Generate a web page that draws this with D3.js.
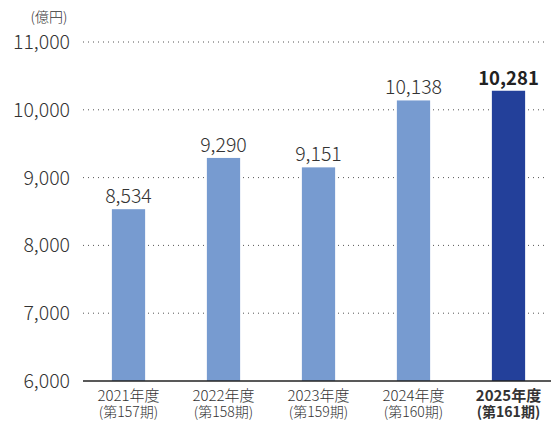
<!DOCTYPE html>
<html><head><meta charset="utf-8">
<script src="https://cdn.jsdelivr.net/npm/d3@7"></script>
<style>
body{margin:0;background:#fff;}
text{font-family:"Noto Sans CJK JP","Noto Sans",sans-serif;}
</style></head>
<body><svg id="c" width="551" height="421"></svg>
<script>
const years = ["2021年度","2022年度","2023年度","2024年度","2025年度"];
const periods = ["(第157期)","(第158期)","(第159期)","(第160期)","(第161期)"];
const values = [8534, 9290, 9151, 10138, 10281];
const yTicks = [6000, 7000, 8000, 9000, 10000, 11000];
const unit = "(億円)";

const svg = d3.select("#c");
const x = d3.scaleBand().domain(years).range([81, 556]).paddingInner(0.65).paddingOuter(0.325);
const y = d3.scaleLinear().domain([6000, 11000]).range([381, 42]);
const fmt = d3.format(",");

// grid
svg.append("g").selectAll("line").data(yTicks.slice(1)).join("line")
  .attr("x1", 83).attr("x2", 546).attr("y1", d => y(d)).attr("y2", d => y(d))
  .attr("stroke", "#555").attr("stroke-width", 1).attr("stroke-dasharray", "1,4");

// y labels
svg.append("g").selectAll("text").data(yTicks).join("text")
  .attr("x", 70).attr("y", d => y(d) + 7).attr("text-anchor", "end")
  .attr("font-size", 19.5).attr("font-weight", 300).attr("fill", "#333").text(d => fmt(d));

svg.append("text").attr("x", 49).attr("y", 22).attr("text-anchor", "middle")
  .attr("font-size", 14).attr("font-weight", 300).attr("fill", "#333").text(unit);

// bars
svg.append("g").selectAll("rect").data(values).join("rect")
  .attr("x", (d, i) => x(years[i])).attr("width", x.bandwidth())
  .attr("y", d => y(d)).attr("height", d => y(6000) - y(d))
  .attr("fill", (d, i) => i === 4 ? "#23409a" : "#779bd0");

// value labels
svg.append("g").selectAll("text").data(values).join("text")
  .attr("x", (d, i) => x(years[i]) + x.bandwidth() / 2).attr("y", d => y(d) - 6)
  .attr("text-anchor", "middle").attr("font-size", (d, i) => i === 4 ? 18.5 : 19.5)
  .attr("font-weight", (d, i) => i === 4 ? 600 : 300)
  .attr("fill", (d, i) => i === 4 ? "#222" : "#333").text(d => fmt(d));

// baseline
svg.append("line").attr("x1", 83).attr("x2", 551).attr("y1", y(6000)).attr("y2", y(6000))
  .attr("stroke", "#222").attr("stroke-width", 1.5);

// category labels
const cat = svg.append("g").selectAll("g").data(years).join("g");
cat.append("text").attr("x", d => x(d) + x.bandwidth() / 2).attr("y", 401)
  .attr("text-anchor", "middle").attr("font-size", 15)
  .attr("font-weight", (d, i) => i === 4 ? 700 : 300).attr("fill", "#333").text(d => d);
cat.append("text").attr("x", d => x(d) + x.bandwidth() / 2).attr("y", 417)
  .attr("text-anchor", "middle").attr("font-size", 14)
  .attr("font-weight", (d, i) => i === 4 ? 700 : 300).attr("fill", "#333").text((d, i) => periods[i]);
</script></body></html>
